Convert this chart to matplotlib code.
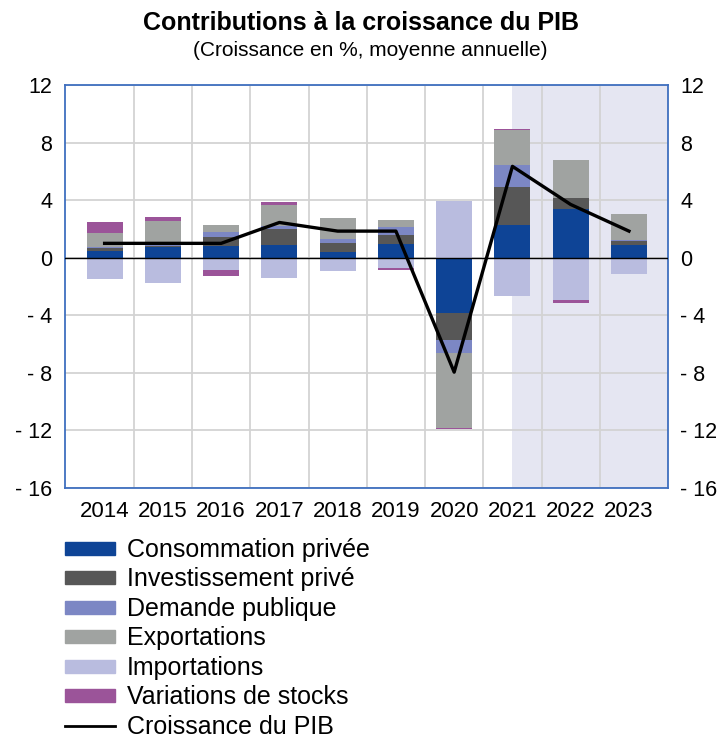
import matplotlib
matplotlib.use("Agg")
import matplotlib.pyplot as plt
from matplotlib.patches import Patch
from matplotlib.lines import Line2D
from matplotlib.ticker import FixedLocator, FuncFormatter
import numpy as np

plt.rcParams['font.family'] = ['Liberation Sans', 'DejaVu Sans']

years = ['2014', '2015', '2016', '2017', '2018', '2019', '2020', '2021', '2022', '2023']

# contributions (points de %)
conso = [0.47, 0.77, 0.83, 0.86, 0.43, 0.95, -3.82, 2.26, 3.36, 0.90]
invest = [0.18, 0.05, 0.58, 1.14, 0.62, 0.63, -1.93, 2.63, 0.78, 0.23]
public = [0.07, 0.05, 0.35, 0.18, 0.28, 0.56, -0.88, 1.55, 0.00, 0.12]
exports = [0.98, 1.68, 0.53, 1.51, 1.44, 0.49, -5.17, 2.44, 2.65, 1.81]
imports = [-1.48, -1.74, -0.86, -1.42, -0.95, -0.72, 3.95, -2.68, -2.96, -1.12]
stocks = [0.76, 0.31, -0.39, 0.16, 0.00, -0.12, -0.13, 0.09, -0.19, 0.00]
gdp = [1.00, 1.00, 1.00, 2.45, 1.85, 1.85, -7.95, 6.35, 3.70, 1.85]

labels = ['Consommation privée', 'Investissement privé', 'Demande publique',
          'Exportations', 'Importations', 'Variations de stocks']
colors = ['#0e4496', '#575757', '#7c87c4', '#a0a3a1', '#b9bcdf', '#9b5499']
series = [conso, invest, public, exports, imports, stocks]

fig = plt.figure(figsize=(7.23, 7.42), dpi=100)
ax = fig.add_axes([0.0899, 0.3423, 0.8340, 0.5431])

x = np.arange(len(years))
ax.axvspan(7, 9.67, color='#e5e6f2', zorder=0, lw=0)

# stack positives up and negatives down, same order
pos = np.zeros(len(years))
neg = np.zeros(len(years))
for s, c in zip(series, colors):
    v = np.array(s)
    bottom = np.where(v >= 0, pos, neg)
    ax.bar(x, v, bottom=bottom, width=0.62, color=c, zorder=3, lw=0)
    pos = pos + np.where(v >= 0, v, 0)
    neg = neg + np.where(v < 0, v, 0)

ax.plot(x, gdp, color='black', lw=2.4, zorder=5)
ax.axhline(0, color='black', lw=1.0, zorder=4)

ax.set_xlim(-0.68, 9.67)
ax.set_ylim(-16, 12)
ax.set_yticks(np.arange(-16, 13, 4))
ax.yaxis.set_major_formatter(FuncFormatter(lambda v, p: ('- %d' % -v) if v < 0 else '%d' % v))
ax.set_xticks(x)
ax.set_xticklabels(years)
ax.xaxis.set_minor_locator(FixedLocator(np.arange(0.5, 9, 1)))
ax.grid(True, axis='y', which='major', color='#d3d3d3', lw=1.3, zorder=1)
ax.grid(True, axis='x', which='minor', color='#d3d3d3', lw=1.3, zorder=1)
ax.tick_params(axis='y', length=0, labelsize=15.5, pad=9, labelright=True)
ax.tick_params(axis='x', which='both', length=0, labelsize=16, pad=9)
for sp in ax.spines.values():
    sp.set_color('#3f6fbf')
    sp.set_linewidth(1.3)

fig.text(0.499, 0.969, 'Contributions à la croissance du PIB', ha='center', va='center',
         fontsize=18, fontweight='bold')
fig.text(0.512, 0.932, '(Croissance en %, moyenne annuelle)', ha='center', va='center',
         fontsize=15)

handles = [Patch(color=c) for c in colors]
handles.append(Line2D([], [], color='black', lw=2))
fig.legend(handles, labels + ['Croissance du PIB'], loc='upper left',
           bbox_to_anchor=(0.09, 0.275), frameon=False, fontsize=18,
           handlelength=2.0, handleheight=0.42, handletextpad=0.48,
           labelspacing=0.22, borderaxespad=0, borderpad=0)

fig.savefig('out.png', dpi=100)
